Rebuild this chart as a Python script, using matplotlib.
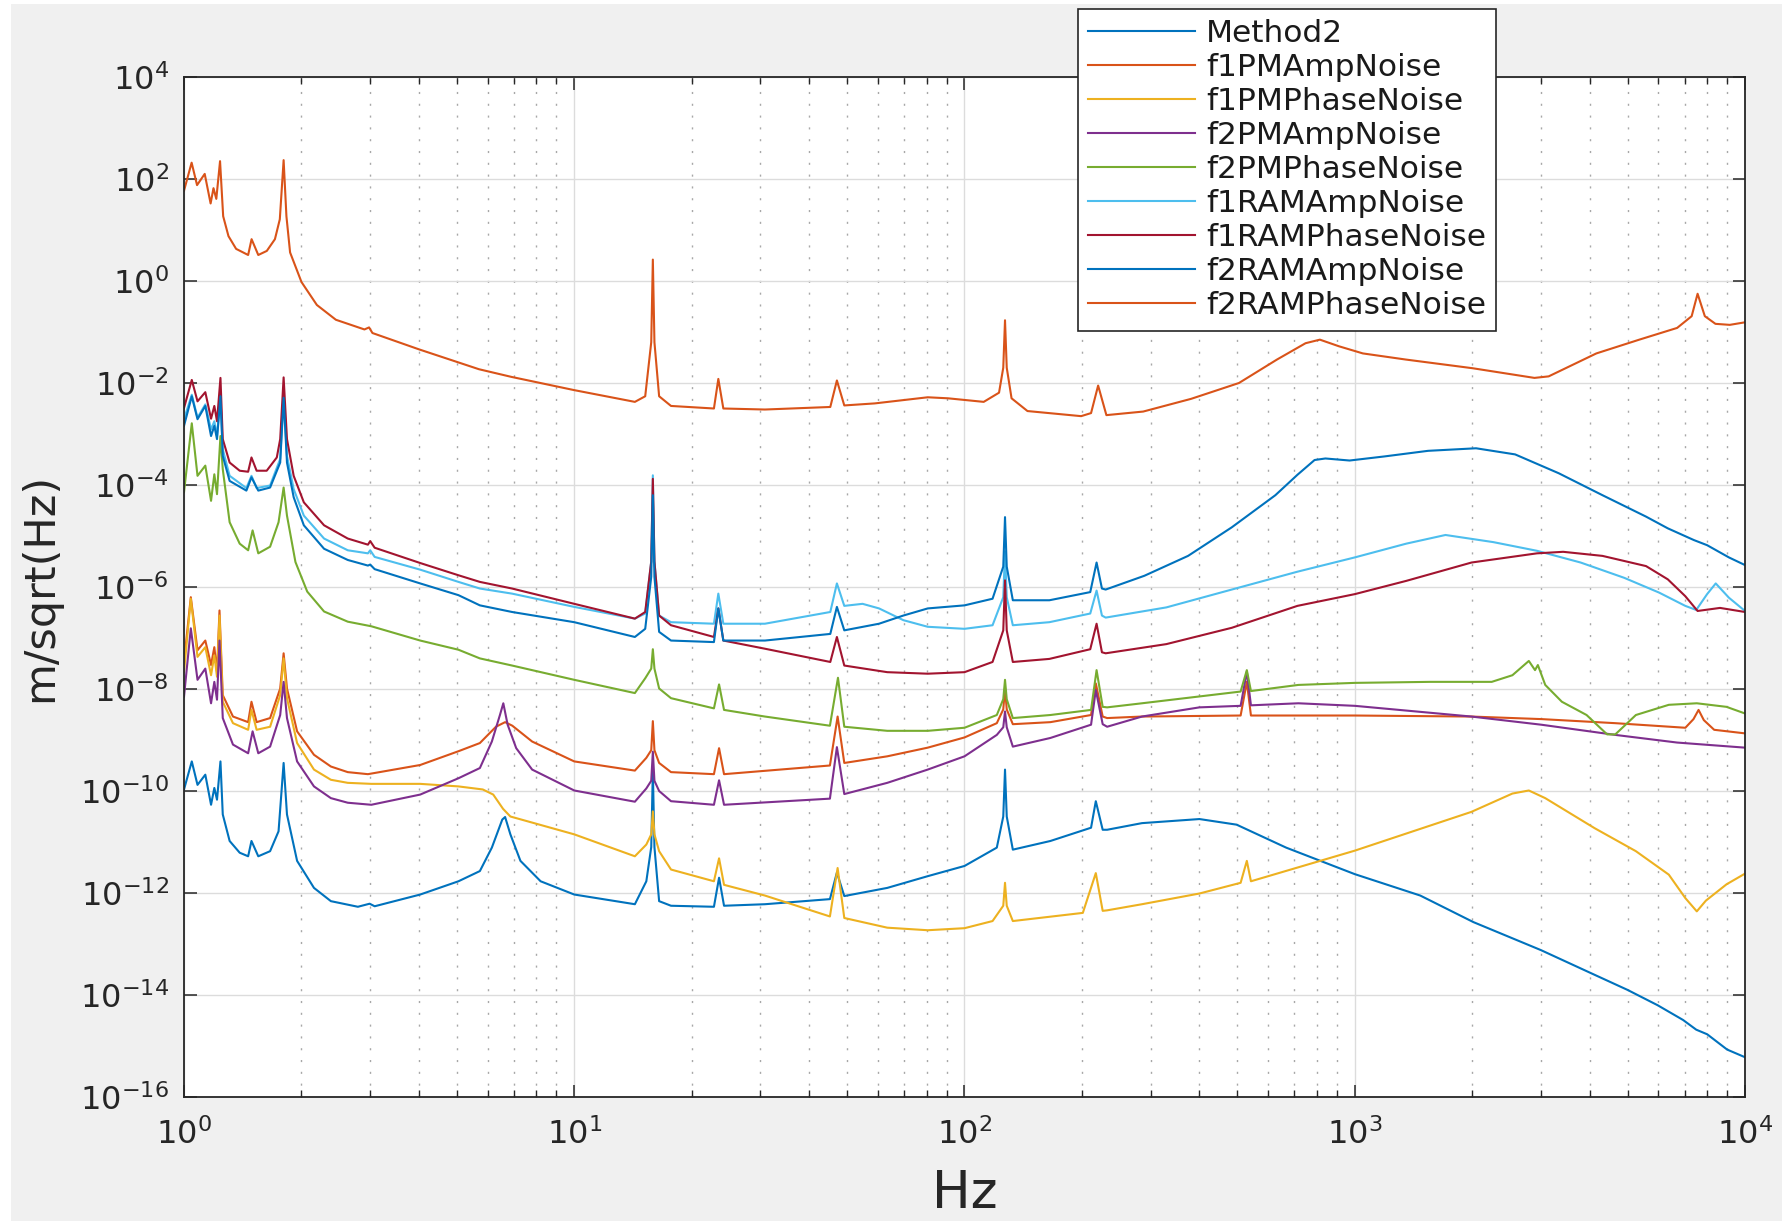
import numpy as np
import matplotlib
matplotlib.use("Agg")
import matplotlib.pyplot as plt
from matplotlib.patches import Rectangle
from matplotlib.ticker import LogLocator, NullLocator, NullFormatter, LogFormatterSciNotation

# ---------------- data (frequency in Hz, value as log10 of m/sqrt(Hz)) ----------------
method2_f = [1.0, 1.047, 1.083, 1.134, 1.173, 1.196, 1.215, 1.24, 1.257, 1.309, 1.389, 1.46, 1.489, 1.55, 1.662,
             1.747, 1.80, 1.836, 1.949, 2.153, 2.379, 2.79, 2.99, 3.08, 4.03, 5.05, 5.73, 6.15, 6.54, 6.65, 6.86,
             7.28, 8.2, 10, 14.3, 15.3, 15.75, 15.9, 16.05, 16.5, 17.7, 22.8, 23.5, 24.2, 30.8, 45.2, 47.1, 49.2,
             63.4, 80.5, 100, 121, 125.7, 127, 128.3, 133, 166, 211, 217, 226, 232, 285, 400, 498, 667, 1000, 1472,
             2013, 3000, 4000, 5000, 5970, 6940, 7500, 8000, 9000, 10000]
method2_e = [-9.97, -9.42, -9.88, -9.68, -10.27, -9.94, -10.17, -9.42, -10.46, -10.98, -11.21, -11.28, -10.98,
             -11.28, -11.18, -10.79, -9.45, -10.46, -11.37, -11.90, -12.16, -12.27, -12.21, -12.26, -12.03, -11.77,
             -11.57, -11.11, -10.56, -10.51, -10.85, -11.37, -11.77, -12.03, -12.22, -11.77, -11.1, -9.6, -11.1,
             -12.16, -12.25, -12.27, -11.70, -12.25, -12.22, -12.12, -11.60, -12.06, -11.90, -11.67, -11.47,
             -11.11, -10.5, -9.58, -10.5, -11.15, -10.98, -10.72, -10.20, -10.76, -10.76, -10.63, -10.55, -10.66,
             -11.11, -11.63, -12.05, -12.57, -13.12, -13.56, -13.90, -14.20, -14.49, -14.68, -14.77, -15.07, -15.22]

f1pm_amp_f = [1.0, 1.041, 1.083, 1.134, 1.173, 1.196, 1.215, 1.233, 1.257, 1.335, 1.46, 1.489, 1.535, 1.662, 1.764,
              1.80, 1.836, 1.949, 2.153, 2.379, 2.628, 2.96, 4.03, 5.05, 5.73, 6.3, 6.65, 6.94, 7.8, 10, 14.3, 15.3,
              15.75, 15.9, 16.05, 16.5, 17.7, 22.8, 23.5, 24.2, 45.2, 47.3, 49.2, 63.4, 80.5, 100, 121, 125.7, 127,
              128.3, 133, 166, 211, 217, 226, 232, 285, 510, 529, 542, 1000, 1989, 3005, 4652, 7033, 7380, 7603,
              7843, 8337, 10000]
f1pm_amp_e = [-7.47, -6.20, -7.24, -7.05, -7.53, -7.18, -7.66, -6.46, -8.12, -8.54, -8.65, -8.25, -8.65, -8.57,
              -7.99, -7.30, -7.99, -8.83, -9.29, -9.52, -9.63, -9.67, -9.49, -9.22, -9.06, -8.74, -8.65, -8.72,
              -9.03, -9.42, -9.60, -9.35, -9.2, -8.63, -9.2, -9.45, -9.63, -9.67, -9.16, -9.67, -9.50, -8.54,
              -9.45, -9.32, -9.15, -8.95, -8.67, -8.4, -7.99, -8.4, -8.69, -8.65, -8.51, -7.89, -8.54, -8.57,
              -8.54, -8.52, -7.86, -8.52, -8.52, -8.54, -8.59, -8.67, -8.76, -8.59, -8.41, -8.61, -8.80, -8.87]

f1pm_phase_f = [1.0, 1.041, 1.083, 1.134, 1.173, 1.196, 1.215, 1.233, 1.257, 1.335, 1.46, 1.489, 1.535, 1.662, 1.764,
                1.80, 1.836, 1.949, 2.153, 2.379, 2.628, 3.02, 4.03, 5.05, 5.83, 6.2, 6.57, 6.86, 10, 14.3, 15.3,
                15.75, 15.9, 16.05, 16.5, 17.7, 22.8, 23.5, 24.2, 30.8, 45.2, 47.3, 49.2, 63.4, 80.5, 100, 118,
                125.7, 127, 128.3, 133, 201, 217, 226, 232, 285, 400, 510, 529, 542, 1000, 1989, 2535, 2793, 3077,
                4120, 5253, 6379, 7033, 7525, 7938, 8966, 10000]
f1pm_phase_e = [-7.66, -6.23, -7.37, -7.18, -7.73, -7.34, -7.76, -6.56, -8.25, -8.67, -8.80, -8.41, -8.80, -8.74,
                -8.12, -7.40, -8.18, -9.06, -9.58, -9.78, -9.84, -9.86, -9.86, -9.91, -9.97, -10.07, -10.35, -10.50,
                -10.85, -11.28, -11.05, -10.85, -10.40, -10.85, -11.18, -11.54, -11.77, -11.32, -11.84, -12.05,
                -12.46, -11.51, -12.49, -12.68, -12.73, -12.69, -12.55, -12.25, -11.80, -12.25, -12.55, -12.39,
                -11.61, -12.35, -12.34, -12.22, -12.01, -11.80, -11.37, -11.77, -11.17, -10.41, -10.05, -9.99,
                -10.14, -10.73, -11.18, -11.64, -12.10, -12.36, -12.15, -11.83, -11.62]

f2pm_amp_f = [1.0, 1.041, 1.083, 1.134, 1.173, 1.196, 1.215, 1.233, 1.257, 1.335, 1.46, 1.499, 1.55, 1.662, 1.764,
              1.80, 1.836, 1.949, 2.153, 2.379, 2.628, 3.02, 4.03, 5.05, 5.73, 6.15, 6.45, 6.58, 6.75, 7.1, 7.8, 10,
              14.3, 15.3, 15.75, 15.9, 16.05, 16.5, 17.7, 22.8, 23.5, 24.2, 45.2, 47.1, 49.2, 63.4, 80.5, 100, 121,
              125.7, 127, 128.3, 133, 166, 211, 217, 226, 232, 285, 400, 510, 529, 542, 717, 1000, 1989, 3005, 4652,
              6698, 10000]
f2pm_amp_e = [-8.15, -6.81, -7.82, -7.60, -8.28, -7.86, -8.21, -7.05, -8.57, -9.09, -9.26, -8.83, -9.26, -9.13,
              -8.51, -7.86, -8.57, -9.42, -9.91, -10.14, -10.23, -10.27, -10.07, -9.75, -9.55, -9.03, -8.51, -8.28,
              -8.70, -9.16, -9.58, -9.99, -10.21, -9.95, -9.8, -9.23, -9.8, -10.0, -10.20, -10.27, -9.79, -10.27,
              -10.15, -9.14, -10.06, -9.84, -9.58, -9.32, -8.90, -8.75, -8.44, -8.75, -9.13, -8.96, -8.70, -8.02,
              -8.69, -8.74, -8.54, -8.36, -8.33, -7.66, -8.32, -8.28, -8.33, -8.54, -8.70, -8.90, -9.05, -9.15]

f2pm_phase_f = [1.0, 1.047, 1.083, 1.134, 1.173, 1.196, 1.215, 1.24, 1.257, 1.309, 1.389, 1.46, 1.499, 1.55, 1.662,
                1.747, 1.80, 1.836, 1.93, 2.069, 2.285, 2.628, 3.02, 4.03, 5.05, 5.73, 6.93, 10, 14.3, 15.2, 15.75,
                15.9, 16.05, 16.5, 17.7, 22.8, 23.5, 24.2, 30.8, 45.2, 47.4, 49.2, 63.4, 80.5, 100, 121, 125.7, 127,
                128.3, 133, 166, 211, 218, 226, 232, 285, 510, 529, 542, 717, 1000, 1560, 2244, 2535, 2793, 2897,
                2946, 3077, 3394, 3927, 4433, 4652, 5253, 6379, 7525, 8966, 10000]
f2pm_phase_e = [-4.14, -2.79, -3.82, -3.62, -4.31, -3.79, -4.18, -3.04, -3.69, -4.73, -5.15, -5.28, -4.89, -5.34,
                -5.21, -4.73, -4.05, -4.60, -5.51, -6.09, -6.48, -6.68, -6.77, -7.05, -7.23, -7.40, -7.54, -7.82,
                -8.08, -7.79, -7.6, -7.22, -7.6, -7.99, -8.18, -8.38, -7.91, -8.41, -8.54, -8.72, -7.78, -8.74,
                -8.82, -8.82, -8.76, -8.51, -8.2, -7.82, -8.2, -8.57, -8.51, -8.41, -7.63, -8.35, -8.36, -8.28,
                -8.05, -7.63, -8.04, -7.92, -7.88, -7.86, -7.86, -7.73, -7.45, -7.63, -7.53, -7.92, -8.25, -8.51,
                -8.89, -8.89, -8.51, -8.31, -8.28, -8.35, -8.48]

f1ram_amp_f = [1.0, 1.047, 1.083, 1.134, 1.173, 1.196, 1.215, 1.24, 1.257, 1.309, 1.445, 1.489, 1.535, 1.662, 1.764,
               1.80, 1.836, 1.91, 2.028, 2.285, 2.628, 2.96, 3.0, 3.08, 4.03, 5.05, 5.73, 6.93, 10, 14.3, 15.2, 15.75,
               15.9, 16.05, 16.5, 17.7, 22.8, 23.4, 24.1, 30.8, 45.3, 47.1, 49.2, 54.8, 60.4, 69.7, 80.5, 100, 118,
               125.7, 127, 128.3, 133, 165, 210, 218, 225, 230, 329, 484, 713, 1000, 1355, 1708, 2265, 2930, 3791,
               4903, 6025, 7030, 7500, 7996, 8414, 9095, 10000]
f1ram_amp_e = [-2.71, -2.23, -2.68, -2.42, -2.91, -2.75, -3.04, -2.26, -3.30, -3.82, -4.06, -3.82, -4.06, -4.01,
               -3.49, -2.26, -3.43, -4.08, -4.60, -5.05, -5.28, -5.34, -5.28, -5.41, -5.66, -5.90, -6.03, -6.13,
               -6.39, -6.62, -6.52, -5.5, -3.81, -5.5, -6.56, -6.69, -6.72, -6.13, -6.72, -6.72, -6.49, -5.93,
               -6.37, -6.33, -6.42, -6.65, -6.78, -6.82, -6.75, -6.2, -5.3, -6.2, -6.75, -6.69, -6.52, -6.07,
               -6.56, -6.60, -6.40, -6.05, -5.70, -5.42, -5.15, -4.98, -5.12, -5.29, -5.52, -5.82, -6.11, -6.37,
               -6.45, -6.14, -5.93, -6.21, -6.47]

f1ram_phase_f = [1.0, 1.047, 1.083, 1.134, 1.173, 1.196, 1.215, 1.24, 1.257, 1.309, 1.389, 1.46, 1.489, 1.535,
                 1.629, 1.729, 1.764, 1.80, 1.836, 1.91, 2.028, 2.285, 2.628, 2.96, 3.0, 3.08, 4.03, 5.05, 5.73,
                 6.93, 10, 14.3, 15.2, 15.75, 15.9, 16.05, 16.5, 17.7, 22.8, 23.4, 24.1, 30.8, 45.3, 47.1, 49.2,
                 63.4, 80.5, 100, 118, 125.7, 127, 128.3, 133, 165, 210, 218, 225, 230, 329, 484, 713, 1000, 1355,
                 1992, 2930, 3420, 4313, 5577, 6342, 7030, 7560, 8630, 10000]
f1ram_phase_e = [-2.49, -1.94, -2.36, -2.18, -2.70, -2.45, -2.75, -1.90, -3.10, -3.56, -3.72, -3.74, -3.46, -3.72,
                 -3.72, -3.46, -3.10, -1.89, -3.10, -3.82, -4.34, -4.79, -5.05, -5.17, -5.10, -5.23, -5.53, -5.77,
                 -5.90, -6.03, -6.33, -6.62, -6.49, -5.5, -3.88, -5.5, -6.56, -6.75, -6.98, -6.42, -7.05, -7.21,
                 -7.47, -6.98, -7.54, -7.67, -7.70, -7.67, -7.47, -6.85, -5.87, -6.85, -7.47, -7.41, -7.22, -6.72,
                 -7.28, -7.30, -7.12, -6.80, -6.37, -6.14, -5.88, -5.52, -5.34, -5.31, -5.39, -5.59, -5.85, -6.18,
                 -6.47, -6.41, -6.49]

f2ram_amp_f = [1.0, 1.047, 1.083, 1.134, 1.173, 1.196, 1.215, 1.24, 1.257, 1.309, 1.445, 1.489, 1.55, 1.662, 1.764,
               1.80, 1.836, 1.91, 2.028, 2.285, 2.628, 2.96, 3.0, 3.08, 4.03, 5.05, 5.73, 6.93, 10, 14.3, 15.2, 15.75,
               15.9, 16.05, 16.5, 17.7, 22.8, 23.4, 24.1, 30.8, 45.3, 47.1, 49.2, 60.4, 69.7, 80.5, 100, 118, 125.7,
               127, 128.3, 133, 165, 210, 218, 225, 230, 289, 374, 484, 626, 713, 789, 841, 970, 1191, 1541, 2046,
               2576, 3333, 4313, 5577, 6342, 7398, 7996, 9095, 10000]
f2ram_amp_e = [-2.84, -2.26, -2.71, -2.45, -3.04, -2.84, -3.10, -2.26, -3.43, -3.92, -4.11, -3.85, -4.11, -4.05,
               -3.56, -2.29, -3.56, -4.24, -4.79, -5.25, -5.47, -5.58, -5.56, -5.65, -5.93, -6.16, -6.36, -6.49,
               -6.69, -6.98, -6.82, -5.8, -4.20, -5.8, -6.88, -7.05, -7.08, -6.42, -7.05, -7.05, -6.92, -6.39,
               -6.85, -6.72, -6.56, -6.42, -6.36, -6.23, -5.6, -4.63, -5.6, -6.26, -6.26, -6.10, -5.52, -6.03,
               -6.05, -5.78, -5.39, -4.83, -4.20, -3.80, -3.51, -3.48, -3.52, -3.44, -3.33, -3.28, -3.40, -3.77,
               -4.20, -4.62, -4.85, -5.08, -5.18, -5.42, -5.57]

f2ram_phase_f = [1.0, 1.046, 1.08, 1.13, 1.17, 1.19, 1.21, 1.237, 1.26, 1.30, 1.36, 1.46, 1.49, 1.55, 1.63, 1.71,
                 1.76, 1.80, 1.83, 1.87, 2.0, 2.19, 2.45, 2.9, 2.98, 3.04, 4.0, 5.7, 6.9, 10, 14.3, 15.2, 15.75, 15.9,
                 16.05, 16.5, 17.7, 22.8, 23.4, 24.1, 30.8, 45.3, 47.1, 49.2, 58.9, 80.5, 90.7, 112, 122.6, 125.7,
                 127, 128.3, 132, 145, 199, 211, 220, 231, 287, 381, 505, 632, 748, 814, 911, 1049, 1351, 2003, 2887,
                 3140, 4160, 5360, 6700, 7300, 7560, 7890, 8400, 9140, 10000]
f2ram_phase_e = [1.77, 2.32, 1.88, 2.10, 1.52, 1.82, 1.61, 2.35, 1.27, 0.88, 0.63, 0.51, 0.82, 0.51, 0.59, 0.82,
                 1.21, 2.37, 1.27, 0.56, -0.02, -0.47, -0.76, -0.95, -0.91, -1.02, -1.34, -1.73, -1.88, -2.14,
                 -2.37, -2.26, -1.2, 0.42, -1.2, -2.26, -2.45, -2.50, -1.92, -2.50, -2.52, -2.47, -1.95, -2.44,
                 -2.40, -2.28, -2.30, -2.37, -2.19, -1.7, -0.77, -1.7, -2.30, -2.55, -2.65, -2.59, -2.05, -2.63,
                 -2.56, -2.31, -2.00, -1.54, -1.22, -1.15, -1.28, -1.42, -1.54, -1.71, -1.90, -1.87, -1.42, -1.15,
                 -0.92, -0.69, -0.25, -0.69, -0.84, -0.86, -0.81]

series_names = ["Method2", "f1PMAmpNoise", "f1PMPhaseNoise", "f2PMAmpNoise", "f2PMPhaseNoise",
                "f1RAMAmpNoise", "f1RAMPhaseNoise", "f2RAMAmpNoise", "f2RAMPhaseNoise"]
series_colors = ["#0072BD", "#D95319", "#EDB120", "#7E2F8E", "#77AC30",
                 "#4DBEEE", "#A2142F", "#0072BD", "#D95319"]
series_f = [method2_f, f1pm_amp_f, f1pm_phase_f, f2pm_amp_f, f2pm_phase_f,
            f1ram_amp_f, f1ram_phase_f, f2ram_amp_f, f2ram_phase_f]
series_e = [method2_e, f1pm_amp_e, f1pm_phase_e, f2pm_amp_e, f2pm_phase_e,
            f1ram_amp_e, f1ram_phase_e, f2ram_amp_e, f2ram_phase_e]

x_label = "Hz"
y_label = "m/sqrt(Hz)"
y_tick_exponents = list(range(-16, 5, 2))

# ---------------- figure ----------------
W, H = 1783, 1221
fig = plt.figure(figsize=(W / 100, H / 100), dpi=100)
fig.patch.set_facecolor("white")
fig.add_artist(Rectangle((11 / W, 0), 1 - 11 / W, 1 - 4 / H, transform=fig.transFigure,
                         facecolor="#F0F0F0", edgecolor="none", zorder=-10))

ax = fig.add_axes([184 / W, 1 - 1097 / H, (1745 - 184) / W, (1097 - 77) / H])
ax.set_facecolor("white")

for name, col, fx, ex in zip(series_names, series_colors, series_f, series_e):
    ax.plot(fx, 10.0 ** np.array(ex), color=col, lw=1.5, label=name)

ax.set_xscale("log")
ax.set_yscale("log")
ax.set_xlim(1, 1e4)
ax.set_ylim(1e-16, 1e4)

ax.xaxis.set_major_locator(LogLocator(base=10, numticks=10))
ax.xaxis.set_minor_locator(LogLocator(base=10, subs=np.arange(2, 10), numticks=20))
ax.xaxis.set_minor_formatter(NullFormatter())
ax.set_yticks([10.0 ** k for k in y_tick_exponents])
ax.yaxis.set_major_formatter(LogFormatterSciNotation())
ax.yaxis.set_minor_locator(NullLocator())

dark = "#262626"
ax.tick_params(which="both", direction="in", top=True, right=True, colors=dark, labelcolor=dark)
ax.tick_params(which="major", length=9, width=1.1, labelsize=23)
ax.tick_params(axis="x", which="major", pad=15)
ax.tick_params(axis="y", which="major", pad=11)
ax.tick_params(which="minor", length=5, width=1.0)
for s in ax.spines.values():
    s.set_color(dark)
    s.set_linewidth(1.3)

ax.grid(True, which="major", axis="both", color="#dcdcdc", lw=1.0, ls="-")
ax.grid(True, which="minor", axis="x", color="#a8a8a8", lw=1.0, ls=(0, (1.5, 7)))
ax.set_axisbelow(True)

ax.set_xlabel(x_label, fontsize=37, color=dark)
ax.set_ylabel(y_label, fontsize=31, color=dark)
ax.xaxis.set_label_coords(0.5, -0.071)
ax.yaxis.set_label_coords(-0.079, 0.5)

leg = ax.legend(loc="upper left", bbox_to_anchor=(1078 / W, 1 - 9 / H), bbox_transform=fig.transFigure,
                borderaxespad=0, fontsize=22.5, handlelength=3.4, handletextpad=0.36, labelspacing=0.16,
                borderpad=0.33, fancybox=False, framealpha=1, edgecolor=dark, facecolor="white")
leg.get_frame().set_linewidth(1.2)
for t in leg.get_texts():
    t.set_color("#1a1a1a")

fig.savefig("out.png", dpi=100, facecolor=fig.get_facecolor())
